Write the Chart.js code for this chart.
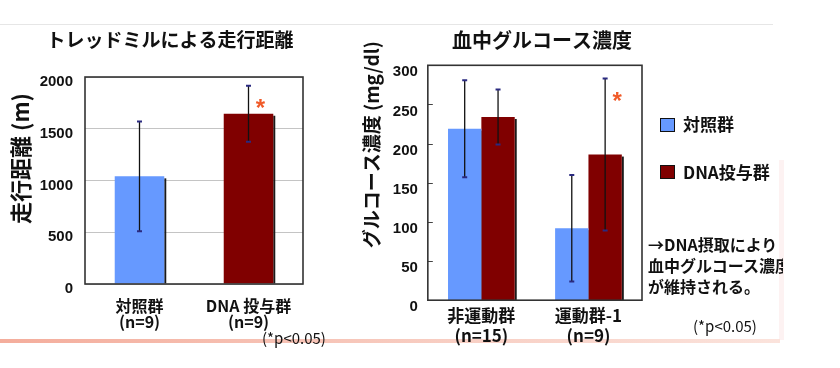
<!DOCTYPE html>
<html><head><meta charset="utf-8">
<script src="https://cdn.jsdelivr.net/npm/chart.js@4.4.1/dist/chart.umd.min.js"></script>
<style>
body{margin:0;background:#fff;width:840px;height:368px;overflow:hidden;position:relative;font-family:"Noto Sans CJK JP",sans-serif;color:#111}
canvas{position:absolute;top:0}
#c1{left:0}
#c2{left:340px}
.topline{position:absolute;left:0;top:24px;width:773px;height:1px;background:#e6e6e6}
.pinkline{position:absolute;left:0;top:339px;width:780px;height:4px;background:linear-gradient(90deg,#f4ad9c,#f8cfc4 60%,#fbe3dc)}
.vband{position:absolute;left:779px;top:160px;width:5px;height:180px;background:#fdf2f2}
.sw{position:absolute;width:13px;height:12px;border:1px solid #111}
.lt{position:absolute;font-weight:bold;font-size:17px;line-height:20px;white-space:nowrap}
.note{position:absolute;left:648px;top:234px;width:135px;overflow:hidden;white-space:nowrap;font-weight:bold;font-size:16px;line-height:21px}
.p{position:absolute;font-size:15px;line-height:18px;white-space:nowrap}
</style></head><body>
<div class="topline"></div>
<div class="vband"></div>
<div class="pinkline"></div>
<canvas id="c1" width="340" height="368"></canvas>
<canvas id="c2" width="404" height="368"></canvas>
<div class="sw" style="left:660px;top:118px;background:#6699ff"></div>
<div class="lt" style="left:683px;top:114px">対照群</div>
<div class="sw" style="left:660px;top:165px;background:#800000"></div>
<div class="lt" style="left:683px;top:162px">DNA投与群</div>
<div class="note">→DNA摂取により<br>血中グルコース濃度<br>が維持される。</div>
<div class="p" style="left:693px;top:317px">(*p&lt;0.05)</div>
<div class="p" style="left:262px;top:329px">(*p&lt;0.05)</div>
<script>
// ---- data ----
const runCategories = ['対照群', 'DNA 投与群'];
const runN = ['(n=9)', '(n=9)'];
const runMeans = [1040, 1645];
const runErrors = [530, 270];
const runSig = [false, true];

const gluCategories = ['非運動群', '運動群-1'];
const gluN = ['(n=15)', '(n=9)'];
const gluControl = [219, 92];
const gluControlErr = [62, 68];
const gluDNA = [234, 186];
const gluDNAErr = [35, 97];
const gluDNASig = [false, true];

const seriesNames = ['対照群', 'DNA投与群'];
const colors = ['#6699ff', '#800000'];

const FONT = '"Noto Sans CJK JP", sans-serif';
const NUMFONT = '"Liberation Sans", Arial, sans-serif';

const barExtras = {
  id: 'barExtras',
  beforeDatasetsDraw(chart) {
    const ctx = chart.ctx;
    ctx.save();
    chart.data.datasets.forEach((ds, di) => {
      chart.getDatasetMeta(di).data.forEach(el => {
        const p = el.getProps(['x', 'y', 'base', 'width'], true);
        ctx.fillStyle = '#1a1a1a';
        ctx.fillRect(p.x + p.width / 2, p.y + 2, 2, p.base - p.y - 2);
      });
    });
    ctx.restore();
  },
  afterDatasetsDraw(chart, args, opts) {
    const ctx = chart.ctx, ys = chart.scales.y, ca = chart.chartArea;
    ctx.save();
    chart.data.datasets.forEach((ds, di) => {
      chart.getDatasetMeta(di).data.forEach((el, i) => {
        const x = el.x, v = ds.data[i], e = ds.errors[i];
        const t = ys.getPixelForValue(v + e), b = ys.getPixelForValue(v - e);
        ctx.strokeStyle = '#111'; ctx.lineWidth = 1.3;
        ctx.beginPath(); ctx.moveTo(x, t); ctx.lineTo(x, b); ctx.stroke();
        ctx.strokeStyle = '#2a2a80'; ctx.lineWidth = 2;
        ctx.beginPath();
        ctx.moveTo(x - 2.5, t); ctx.lineTo(x + 2.5, t);
        ctx.moveTo(x - 2.5, b); ctx.lineTo(x + 2.5, b);
        ctx.stroke();
        if (ds.sig && ds.sig[i]) {
          ctx.fillStyle = '#f05a28';
          ctx.font = 'bold 24px ' + NUMFONT;
          ctx.textAlign = 'center'; ctx.textBaseline = 'middle';
          ctx.fillText('*', x + 12, t + 24);
        }
      });
    });
    if (opts.insideTicks) {
      ctx.strokeStyle = '#444'; ctx.lineWidth = 1;
      ys.ticks.forEach(tk => {
        const y = Math.round(ys.getPixelForValue(tk.value)) + 0.5;
        ctx.beginPath(); ctx.moveTo(ca.left, y); ctx.lineTo(ca.left + 5, y); ctx.stroke();
      });
    }
    ctx.strokeStyle = '#333'; ctx.lineWidth = 1.6;
    ctx.strokeRect(ca.left, ca.top, ca.right - ca.left, ca.bottom - ca.top);
    ctx.restore();
  }
};

new Chart(document.getElementById('c1'), {
  type: 'bar',
  data: {
    labels: runCategories.map((c, i) => [c, runN[i]]),
    datasets: [{
      label: '走行距離', data: runMeans, errors: runErrors, sig: runSig,
      backgroundColor: colors, borderWidth: 0,
      categoryPercentage: 0.4545, barPercentage: 1
    }]
  },
  options: {
    responsive: false, animation: false,
    layout: { padding: { top: 0, left: 0, right: 0, bottom: 24 } },
    plugins: {
      legend: { display: false }, tooltip: { enabled: false },
      title: { display: true, text: 'トレッドミルによる走行距離', color: '#111',
        font: { size: 19, weight: 'bold', family: FONT }, padding: { top: 28.6, bottom: 25.6 } },
      barExtras: { insideTicks: false }
    },
    scales: {
      x: { grid: { display: false, drawTicks: false }, border: { display: false },
        ticks: { padding: 14, maxRotation: 0, minRotation: 0, autoSkip: false, color: '#111', font: { size: 16, weight: 'bold', family: FONT, lineHeight: 1.0 } } },
      y: { min: 0, max: 2000,
        ticks: { stepSize: 500, padding: 12, labelOffset: 5, color: '#111', callback: v => String(v), font: { size: 15, weight: 'bold', family: NUMFONT } },
        grid: { color: '#c4c4c4', drawTicks: false }, border: { display: false },
        title: { display: true, text: '　　走行距離 (m)', color: '#111', font: { size: 22, weight: 'bold', family: FONT }, padding: { top: 7, bottom: 2 } } },
      yR: { position: 'right', display: true, grid: { display: false, drawTicks: false }, border: { display: false },
        ticks: { display: false }, afterFit(s) { s.width = 37; } }
    }
  },
  plugins: [barExtras]
});

new Chart(document.getElementById('c2'), {
  type: 'bar',
  data: {
    labels: gluCategories.map((c, i) => [c, gluN[i]]),
    datasets: [
      { label: seriesNames[0], data: gluControl, errors: gluControlErr, sig: [false, false],
        backgroundColor: colors[0], borderWidth: 0, categoryPercentage: 0.623, barPercentage: 1 },
      { label: seriesNames[1], data: gluDNA, errors: gluDNAErr, sig: gluDNASig,
        backgroundColor: colors[1], borderWidth: 0, categoryPercentage: 0.623, barPercentage: 1 }
    ]
  },
  options: {
    responsive: false, animation: false,
    layout: { padding: { top: 0, left: 0, right: 0, bottom: 17 } },
    plugins: {
      legend: { display: false }, tooltip: { enabled: false },
      title: { display: true, text: '血中グルコース濃度', color: '#111',
        font: { size: 20, weight: 'bold', family: FONT }, padding: { top: 28, bottom: 13.3 } },
      barExtras: { insideTicks: true }
    },
    scales: {
      x: { grid: { display: false, drawTicks: false }, border: { display: false },
        ticks: { padding: 5, maxRotation: 0, minRotation: 0, autoSkip: false, color: '#111', font: { size: 17, weight: 'bold', family: FONT, lineHeight: 1.2 } } },
      y: { min: 0, max: 300,
        ticks: { stepSize: 50, padding: 10, labelOffset: 7, color: '#111', callback: v => String(v), font: { size: 15, weight: 'bold', family: NUMFONT } },
        grid: { display: false, drawTicks: false }, border: { display: false },
        title: { display: true, text: '　　　　グルコース濃度 (mg/dl)', color: '#111', font: { size: 19, weight: 'bold', family: FONT }, padding: { top: 20, bottom: 0 } } },
      yR: { position: 'right', display: true, grid: { display: false, drawTicks: false }, border: { display: false },
        ticks: { display: false }, afterFit(s) { s.width = 102; } }
    }
  },
  plugins: [barExtras]
});
</script>
</body></html>
